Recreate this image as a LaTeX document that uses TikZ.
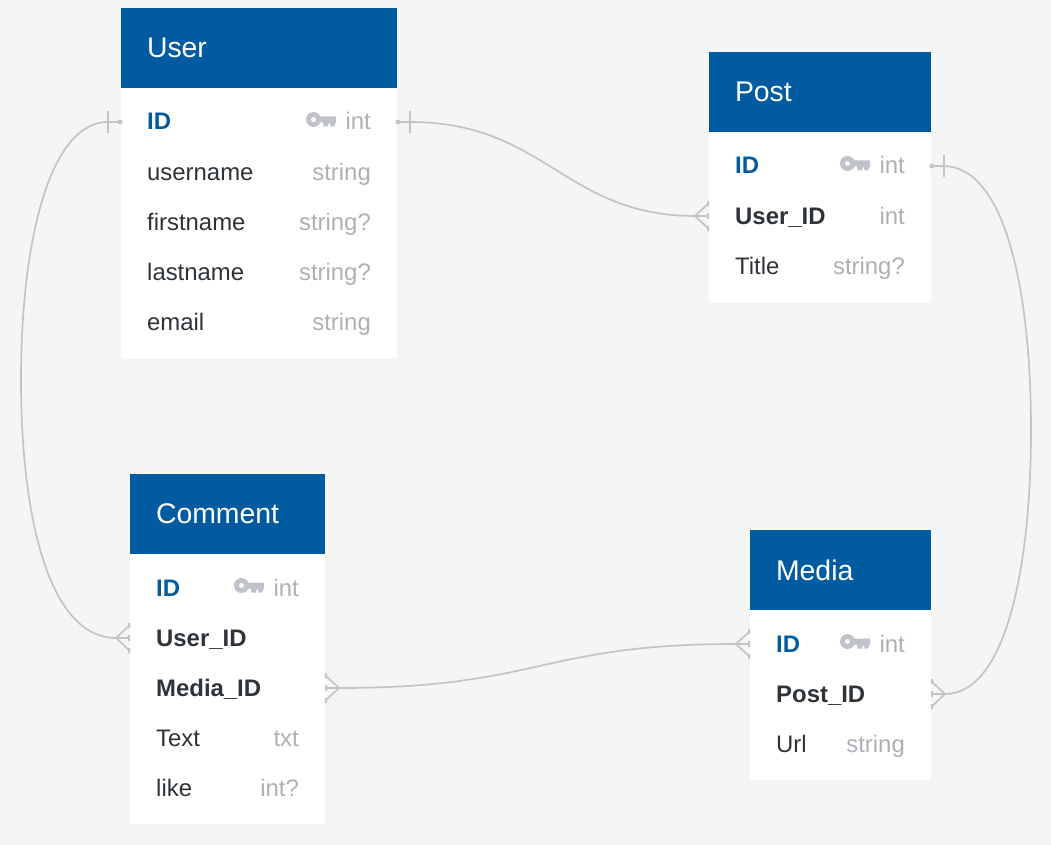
\documentclass[tikz,border=0pt]{standalone}
\usepackage{fontspec}
\setmainfont{Liberation Sans}
\usetikzlibrary{positioning}
\definecolor{pagebg}{HTML}{F4F6F6}
\definecolor{headblue}{HTML}{005BA1}
\definecolor{rowdark}{HTML}{2E3338}
\definecolor{rowgray}{HTML}{ADB1B5}
\definecolor{keygray}{HTML}{C0C4CA}
\definecolor{relgray}{HTML}{C2C5C4}
\tikzset{
  headbox/.style={fill=headblue,text=white,anchor=north west,outer sep=0pt,inner xsep=26pt,inner ysep=0pt,
    minimum height=80pt,font=\fontsize{28.4}{32}\selectfont},
  bodybox/.style={fill=white,outer sep=0pt,inner sep=0pt},
  rowname/.style={anchor=base west,inner sep=0pt,text=rowdark,font=\fontsize{23.9}{28}\selectfont},
  rowfk/.style={rowname,font=\fontsize{23.9}{28}\selectfont\bfseries},
  rowpk/.style={rowfk,text=headblue},
  rowtype/.style={anchor=base east,inner sep=0pt,text=rowgray,font=\fontsize{23.9}{28}\selectfont},
  rel/.style={draw=relgray,line width=1.7pt},
  keyicon/.pic={
    \fill[keygray,even odd rule] (-57.5,-10.5) circle (7.5) (-57.5,-10.5) circle (2.6);
    \fill[keygray] (-52,-13.5) -- (-35,-13.5) -- (-35,-8) -- (-37,-3.5) -- (-40.5,-3.5) -- (-41,-6.5) -- (-42.5,-6.5) -- (-43,-3.5) -- (-47.5,-3.5) -- (-48,-7.5) -- (-52,-7.5) -- cycle;
  },
  crow/.pic={
    \draw[rel] (0,0) -- (14,0);
    \draw[rel] (0,-13) -- (14,0) -- (0,13);
    \fill[relgray] (0,-15) rectangle (2,-10) (0,-3) rectangle (2,3) (0,10) rectangle (2,15);
  },
  onebar/.pic={
    \draw[rel] (0,0) -- (13,0);
    \draw[rel] (13,-11) -- (13,11);
    \fill[relgray] (1,0) circle (2.5);
  }
}
\begin{document}
\begin{tikzpicture}[x=1pt,y=-1pt]
\fill[pagebg] (0,0) rectangle (1051,845);
\useasboundingbox (0,0) rectangle (1051,845);
% user
\node[headbox,text width=224pt] (userhead) at (121,8) {User};
\node[bodybox,minimum width=276pt,minimum height=270pt,below=0pt of userhead] (userbody) {};
\node[rowpk] (userid) at (147,130) {ID};
\node[rowtype] (useridt) at (371,130) {int};
\pic at (371,130) {keyicon};
\node[rowname] (username) at (147,180) {username};
\node[rowtype] (usernamet) at (371,180) {string};
\node[rowname] (userfirst) at (147,230) {firstname};
\node[rowtype] (userfirstt) at (371,230) {string?};
\node[rowname] (userlast) at (147,280) {lastname};
\node[rowtype] (userlastt) at (371,280) {string?};
\node[rowname] (usermail) at (147,330) {email};
\node[rowtype] (usermailt) at (371,330) {string};
% post
\node[headbox,text width=170pt] (posthead) at (709,52) {Post};
\node[bodybox,minimum width=222pt,minimum height=170pt,below=0pt of posthead] (postbody) {};
\node[rowpk] (postid) at (735,174) {ID};
\node[rowtype] (postidt) at (905,174) {int};
\pic at (905,174) {keyicon};
\node[rowfk] (postuser) at (735,224) {User\_ID};
\node[rowtype] (postusert) at (905,224) {int};
\node[rowname] (posttitle) at (735,274) {Title};
\node[rowtype] (posttitlet) at (905,274) {string?};
% comment
\node[headbox,text width=143pt] (commhead) at (130,474) {Comment};
\node[bodybox,minimum width=195pt,minimum height=270pt,below=0pt of commhead] (commbody) {};
\node[rowpk] (commid) at (156,596) {ID};
\node[rowtype] (commidt) at (299,596) {int};
\pic at (299,596) {keyicon};
\node[rowfk] (commuser) at (156,646) {User\_ID};
\node[rowfk] (commmedia) at (156,696) {Media\_ID};
\node[rowname] (commtext) at (156,746) {Text};
\node[rowtype] (commtextt) at (299,746) {txt};
\node[rowname] (commlike) at (156,796) {like};
\node[rowtype] (commliket) at (299,796) {int?};
% media
\node[headbox,text width=129pt] (mediahead) at (750,530) {Media};
\node[bodybox,minimum width=181pt,minimum height=170pt,below=0pt of mediahead] (mediabody) {};
\node[rowpk] (mediaid) at (776,652) {ID};
\node[rowtype] (mediaidt) at (905,652) {int};
\pic at (905,652) {keyicon};
\node[rowfk] (mediapost) at (776,702) {Post\_ID};
\node[rowname] (mediaurl) at (776,752) {Url};
\node[rowtype] (mediaurlt) at (905,752) {string};
% row ends on the box edges
\coordinate (userL) at (121,122);
\coordinate (userR) at (397,122);
\coordinate (postR) at (931,166);
\coordinate (postL) at (709,216);
\coordinate (commL) at (130,638);
\coordinate (commR) at (325,688);
\coordinate (mediaL) at (750,644);
\coordinate (mediaR) at (931,694);
% connectors
\draw[rel] (userR) -- ++(13,0) .. controls (545,122) and (565,216) .. ([xshift=-14pt]postL);
\draw[rel] (postR) -- ++(12,0) .. controls (1005,166) and (1031,290) .. (1031,430) .. controls (1031,570) and (1005,694) .. ([xshift=14pt]mediaR);
\draw[rel] (userL) -- ++(-13,0) .. controls (50,122) and (21,240) .. (21,380) .. controls (21,520) and (50,638) .. ([xshift=-14pt]commL);
\draw[rel] ([xshift=14pt]commR) .. controls (540,688) and (540,644) .. ([xshift=-14pt]mediaL);
\pic at (userR) {onebar};
\pic[rotate=180] at (userL) {onebar};
\pic at (postR) {onebar};
\pic[rotate=180] at (postL) {crow};
\pic[rotate=180] at (commL) {crow};
\pic at (commR) {crow};
\pic[rotate=180] at (mediaL) {crow};
\pic at (mediaR) {crow};
\end{tikzpicture}
\end{document}
